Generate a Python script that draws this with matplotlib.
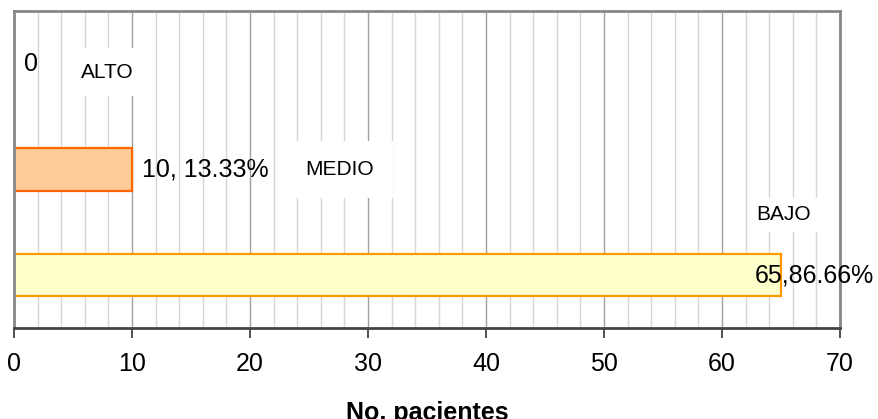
import matplotlib.pyplot as plt
from matplotlib.ticker import MultipleLocator

plt.rcParams['font.family'] = ['Liberation Sans', 'DejaVu Sans']

# niveles de riesgo (de abajo hacia arriba) y número de pacientes
niveles = ['BAJO', 'MEDIO', 'ALTO']
pacientes = [65, 10, 0]
etiquetas_valor = ['65,86.66%', '10, 13.33%', '0']
colores = ['#FFFFCC', '#FFCC99', '#FFFFFF']
bordes = ['#FF9900', '#FF6600', '#FF6600']

fig = plt.figure(figsize=(8.79, 4.19), dpi=100)
ax = fig.add_axes([14 / 879, 1 - 328 / 419, 826 / 879, 317 / 419])

pos = list(range(len(niveles)))
for y, v, c, e in zip(pos, pacientes, colores, bordes):
    if v > 0:
        ax.barh(y, v, height=0.4, color=c, edgecolor=e, linewidth=1.6, zorder=2)

# etiquetas de valor junto a cada barra
desplaz_valor = [-26, 10, 10]
for y, v, txt, dx in zip(pos, pacientes, etiquetas_valor, desplaz_valor):
    ax.annotate(txt, (v, y), xytext=(dx, 0), textcoords='offset pixels',
                ha='left', va='center', fontsize=18, zorder=4)

# nombres de categoría con fondo blanco
pos_nombre = [(65.2, 0.57), (27.6, 1.0), (7.9, 1.92)]
pad_nombre = [0.35, 0.9, 0.7]
for nombre, (x, y), p in zip(niveles, pos_nombre, pad_nombre):
    ax.text(x, y, nombre, ha='center', va='center', fontsize=15, zorder=3,
            bbox=dict(boxstyle=f'square,pad={p}', facecolor='white', edgecolor='none'))

ax.set_xlim(0, 70)
ax.set_ylim(-0.5, 2.5)
ax.xaxis.set_major_locator(MultipleLocator(10))
ax.xaxis.set_minor_locator(MultipleLocator(2))
ax.grid(axis='x', which='minor', color='#d6d6d6', linewidth=1.0)
ax.grid(axis='x', which='major', color='#a0a0a0', linewidth=1.0)
ax.set_axisbelow(True)
ax.set_yticks([])
ax.tick_params(axis='x', which='major', direction='out', length=7, width=1.2,
               color='#333333', labelsize=18, pad=10)
ax.tick_params(axis='x', which='minor', length=0)

for lado in ['top', 'left', 'right']:
    ax.spines[lado].set_color('#888888')
    ax.spines[lado].set_linewidth(2)
ax.spines['bottom'].set_color('#444444')
ax.spines['bottom'].set_linewidth(2)

ax.set_xlabel('No. pacientes', fontsize=18, fontweight='bold', labelpad=18)

fig.savefig('out.png', dpi=100)
